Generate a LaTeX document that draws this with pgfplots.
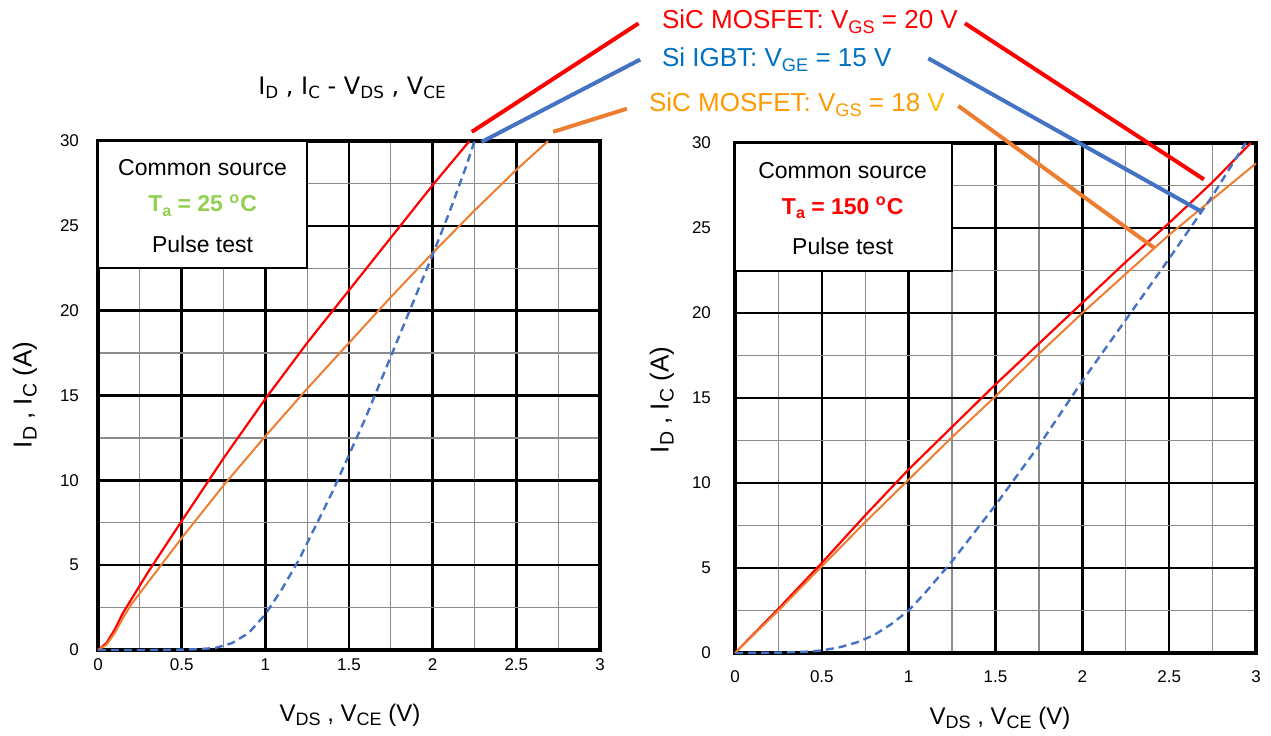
\documentclass[border=0pt]{standalone}
\usepackage{pgfplots}
\pgfplotsset{compat=1.18}
\usepackage{fontspec}
\setmainfont{Liberation Sans}
\newfontfamily\verd{DejaVu Sans}
\definecolor{cred}{HTML}{FF0000}
\definecolor{cblue}{HTML}{4472C4}
\definecolor{corange}{HTML}{ED7D31}
\definecolor{tblue}{HTML}{0070C0}
\definecolor{torange}{HTML}{FF9900}
\definecolor{tyellow}{HTML}{FFC000}
\definecolor{tgreen}{HTML}{92D050}
\newcommand{\sub}[2][0.75]{\raisebox{-0.35ex}{\scalebox{#1}{#2}}}

\pgfplotsset{chart/.style={
  scale only axis, anchor=south west,
  xmin=0, xmax=3, ymin=0, ymax=30,
  xtick={0,0.5,1,1.5,2,2.5,3}, ytick={0,5,...,30},
  minor x tick num=1, minor y tick num=1, grid=both,
  major grid style={black, line width=1.3pt},
  minor grid style={black!45, line width=0.6pt},
  axis line style={black, line width=1.6pt},
  major tick length=0pt, minor tick length=0pt,
  tick label style={font=\fontsize{8.5}{10}\selectfont},
  /pgf/number format/assume math mode=true,
  clip=false,
}}

\begin{document}
\begin{tikzpicture}
\path[use as bounding box] (0,0) rectangle (635.5pt,367.5pt);

% left: Ta = 25 C
\begin{axis}[chart, at={(49pt,42.5pt)}, width=251pt, height=254.5pt,
  xticklabel style={yshift=-1pt}, yticklabel style={xshift=-6pt}]
\draw[fill=white, line width=1pt] (axis cs:0,30) rectangle (axis cs:1.25,22.5);
\node[font=\fontsize{11.5}{13}\selectfont] at (axis cs:0.625,28.45) {Common source};
\node[font=\fontsize{11.5}{13}\selectfont\bfseries, tgreen] at (axis cs:0.625,26.2) {T\sub[0.7]{a} = 25 \textsuperscript{o}C};
\node[font=\fontsize{11.5}{13}\selectfont] at (axis cs:0.625,23.9) {Pulse test};
\addplot[cred, line width=1.1pt] coordinates {
 (0,0) (0.05,0.4) (0.1,1.2) (0.15,2.2) (0.2,3.0) (0.3,4.6) (0.5,7.6) (0.75,11.3)
 (1.0,14.8) (1.25,18.1) (1.5,21.2) (1.75,24.3) (2.0,27.4) (2.22,30)};
\addplot[corange, line width=1pt] coordinates {
 (0,0) (0.05,0.3) (0.1,1.0) (0.15,1.9) (0.2,2.7) (0.3,4.0) (0.5,6.6) (0.75,9.7)
 (1.0,12.6) (1.25,15.4) (1.5,18.1) (1.75,20.8) (2.0,23.4) (2.25,25.9) (2.5,28.3) (2.69,30)};
\addplot[cblue, line width=1.2pt, dash pattern=on 4pt off 2.5pt] coordinates {
 (0,0) (0.3,0) (0.5,0.02) (0.6,0.05) (0.7,0.12) (0.8,0.4) (0.9,1.0) (1.0,2.1)
 (1.1,3.6) (1.2,5.3) (1.3,7.3) (1.4,9.3) (1.5,11.5) (1.6,13.7) (1.7,16.1)
 (1.8,18.5) (1.9,20.9) (2.0,23.3) (2.1,25.8) (2.2,28.5) (2.25,30)};
\draw[cred, line width=2pt] (axis cs:2.234,30.54) -- (axis cs:3.23,36.93);
\draw[cblue, line width=2pt] (axis cs:2.293,29.95) -- (axis cs:3.24,34.8);
\draw[corange, line width=2pt] (axis cs:2.72,30.54) -- (axis cs:3.16,31.9);
\end{axis}

% right: Ta = 150 C
\begin{axis}[chart, at={(367.5pt,41pt)}, width=260.5pt, height=255pt,
  xticklabel style={yshift=-5.5pt}, yticklabel style={xshift=-8.5pt}]
\draw[fill=white, line width=1pt] (axis cs:0,30) rectangle (axis cs:1.25,22.5);
\node[font=\fontsize{11.5}{13}\selectfont] at (axis cs:0.62,28.4) {Common source};
\node[font=\fontsize{11.5}{13}\selectfont\bfseries, cred] at (axis cs:0.62,26.2) {T\sub[0.7]{a} = 150 \textsuperscript{o}C};
\node[font=\fontsize{11.5}{13}\selectfont] at (axis cs:0.62,23.9) {Pulse test};
\addplot[cred, line width=1.1pt] coordinates {
 (0,0) (0.25,2.6) (0.5,5.3) (0.75,8.1) (1.0,10.8) (1.25,13.3) (1.5,15.8)
 (1.75,18.2) (2.0,20.6) (2.25,23.0) (2.5,25.3) (2.75,27.7) (2.97,30)};
\addplot[corange, line width=1pt] coordinates {
 (0,0) (0.25,2.5) (0.5,5.1) (0.75,7.7) (1.0,10.2) (1.25,12.7) (1.5,15.1)
 (1.75,17.6) (2.0,20.0) (2.25,22.3) (2.5,24.6) (2.75,26.7) (3.0,28.8)};
\addplot[cblue, line width=1.2pt, dash pattern=on 4pt off 2.5pt] coordinates {
 (0,0) (0.25,0.02) (0.4,0.07) (0.5,0.15) (0.6,0.33) (0.7,0.62) (0.8,1.05)
 (0.9,1.7) (1.0,2.5) (1.1,3.6) (1.25,5.4) (1.5,8.7) (1.75,12.2) (2.0,16.0)
 (2.25,19.6) (2.5,23.2) (2.75,26.9) (2.94,30)};
\draw[cred, line width=2pt] (axis cs:1.324,37.04) -- (axis cs:2.70,27.86);
\draw[cblue, line width=2pt] (axis cs:1.113,34.98) -- (axis cs:2.687,25.96);
\draw[corange, line width=2pt] (axis cs:1.286,32.18) -- (axis cs:2.418,23.8);
\end{axis}

% titles, labels and series names
\node[font=\verd\fontsize{12}{14}\selectfont] at (176pt,323.5pt) {I\sub[0.7]{D} , I\sub[0.7]{C} - V\sub[0.7]{DS} , V\sub[0.7]{CE}};
\node[rotate=90, font=\fontsize{13}{15}\selectfont] at (12.5pt,170pt) {I\sub{D} , I\sub{C} (A)};
\node[rotate=90, font=\fontsize{13}{15}\selectfont] at (331pt,167.5pt) {I\sub{D} , I\sub{C} (A)};
\node[font=\fontsize{12}{14}\selectfont] at (175pt,10pt) {V\sub{DS} , V\sub{CE} (V)};
\node[font=\fontsize{12}{14}\selectfont] at (500pt,8.5pt) {V\sub{DS} , V\sub{CE} (V)};
\node[anchor=west, cred, font=\fontsize{13}{15}\selectfont] at (327.5pt,356.5pt) {SiC MOSFET: V\sub[0.7]{GS} = 20 V};
\node[anchor=west, tblue, font=\fontsize{13}{15}\selectfont] at (327.5pt,337.5pt) {Si IGBT: V\sub[0.7]{GE} = 15 V};
\node[anchor=west, font=\fontsize{13}{15}\selectfont] at (321pt,315pt) {\color{torange}SiC MOSFET: V\sub[0.7]{GS} = 18 \color{tyellow}V};
\end{tikzpicture}
\end{document}
